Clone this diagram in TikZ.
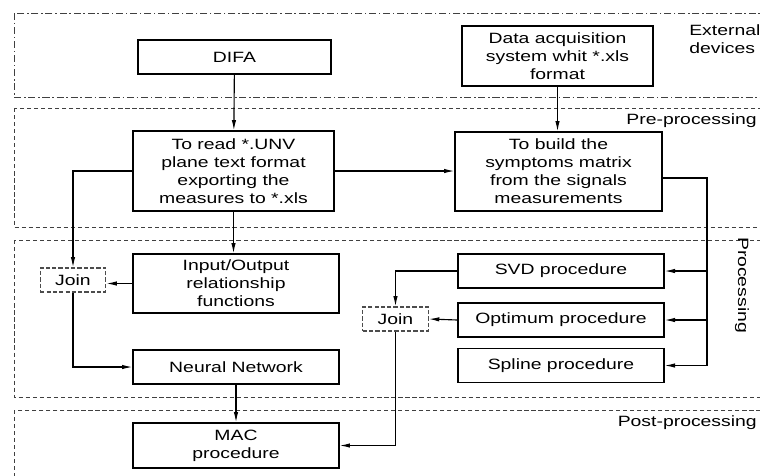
\documentclass[tikz,border=0pt]{standalone}
\usepackage{fontspec}
\setmainfont{Liberation Sans}[FakeStretch=1.3]
\usetikzlibrary{arrows.meta}
\begin{document}
\begin{tikzpicture}[x=0.025cm,y=-0.025cm,
  bx/.style={draw=black,line width=0.8pt,align=center,inner sep=0pt,font=\fontsize{10.6}{12.8}\selectfont},
  jn/.style={bx,draw=black!70,dash pattern=on 3pt off 1.5pt,minimum width=1.64cm,minimum height=0.6cm},
  fr/.style={draw=black!75,line width=0.6pt,dash pattern=on 3pt off 2pt},
  ar/.style={line width=0.8pt,-{Latex[length=2.6mm,width=1.1mm]}},
  lbl/.style={font=\fontsize{10.6}{12.8}\selectfont,inner sep=0pt,align=left}]
\clip (0,0) rectangle (760,475);
% frames
\draw[fr,dash pattern=on 5pt off 2pt on 1pt off 2pt] (14,13) rectangle (800,97);
\draw[fr] (14,108) rectangle (800,227);
\draw[fr] (14,240) rectangle (800,397);
\draw[fr] (14,410) rectangle (800,500);
\node[lbl,anchor=west] (ext) at (689,39) {External\\devices};
\node[lbl,anchor=east] (pre) at (757,121) {Pre-processing};
\node[lbl,rotate=-90] (proc) at (742,285) {Processing};
\node[lbl,anchor=east] (post) at (757,423) {Post-processing};
% boxes
\node[bx,minimum width=4.825cm,minimum height=0.85cm] (difa) at (234.5,57) {DIFA};
\node[bx,minimum width=4.775cm,minimum height=1.5cm] (daq) at (557.5,56) {Data acquisition\\system whit *.xls\\format};
\node[bx,minimum width=5.025cm,minimum height=2cm] (read) at (233.5,171) {To read *.UNV\\plane text format\\exporting the\\measures to *.xls};
\node[bx,minimum width=5.175cm,minimum height=1.975cm] (build) at (558.5,171.5) {To build the\\symptoms matrix\\from the signals\\measurements};
\node[jn] (j1) at (73,280) {Join};
\node[bx,minimum width=5.15cm,minimum height=1.475cm] (io) at (236,283.5) {Input/Output\\relationship\\functions};
\node[bx,minimum width=5.15cm,minimum height=0.85cm] (nn) at (236,367) {Neural Network};
\node[bx,minimum width=5.15cm,minimum height=1.125cm] (mac) at (236,445.5) {MAC\\procedure};
\node[bx,minimum width=5.15cm,minimum height=0.85cm] (svd) at (561,271) {SVD procedure};
\node[bx,minimum width=5.15cm,minimum height=0.85cm] (opt) at (561,320) {Optimum procedure};
\node[bx,minimum width=5.15cm,minimum height=0.85cm] (spl) at (561,365.5) {Spline procedure};
\node[jn] (j2) at (395.5,319) {Join};
\coordinate (bus) at (707,178);
% connectors
\draw[ar] (difa) -- (read);
\draw[ar] (daq.south) -- (daq.south |- build.north);
\draw[ar] (read.east) -- (read.east -| build.west);
\draw[ar] (read.west) -| (j1.north);
\draw[ar] (read.south) -- (read.south |- io.north);
\draw[ar] (io.west) -- (io.west -| j1.east);
\draw[ar] (j1.south) |- (nn.west);
\draw[ar] (nn) -- (mac);
\draw[line width=0.8pt] (build.east |- bus) -- (bus) -- (bus |- spl.east);
\draw[ar] (bus |- svd.east) -- (svd.east);
\draw[ar] (bus |- opt.east) -- (opt.east);
\draw[ar] (bus |- spl.east) -- (spl.east);
\draw[ar] (svd.west) -| (j2.north);
\draw[ar] (opt.west) -- (j2.east);
\draw[ar] (j2.south) |- (mac.east);
\end{tikzpicture}
\end{document}
